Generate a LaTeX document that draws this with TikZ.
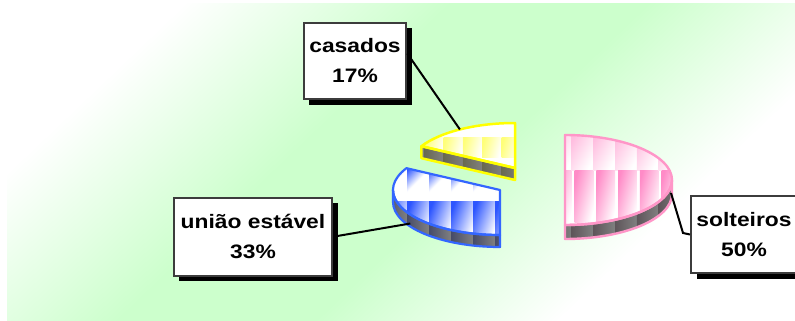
\documentclass[tikz,border=0pt]{standalone}
\usepackage{fontspec}
\newfontfamily\labfont{Liberation Sans}[FakeStretch=1.17]
\usetikzlibrary{calc,shadows}
\definecolor{bggreen}{RGB}{204,255,204}
\definecolor{yedge}{RGB}{255,255,0}
\definecolor{ytile}{RGB}{255,255,120}
\definecolor{bedge}{RGB}{51,102,255}
\definecolor{btile}{RGB}{45,85,255}
\definecolor{pedge}{RGB}{255,150,200}
\definecolor{ptile}{RGB}{255,110,185}
\definecolor{sidegray}{RGB}{128,128,128}
\definecolor{ysidedark}{RGB}{105,105,80}
\definecolor{bsidedark}{RGB}{70,75,105}
\definecolor{psidedark}{RGB}{95,85,90}
\definecolor{boxedge}{RGB}{60,60,60}
\pgfdeclarehorizontalshading{bgshade}{100bp}{color(0bp)=(white); color(33.5bp)=(white); color(45bp)=(bggreen); color(53.5bp)=(bggreen); color(64bp)=(white); color(100bp)=(white)}
\tikzset{
  labbox/.style={draw=boxedge, line width=2pt, fill=white, align=center, inner sep=0pt,
    font=\labfont\bfseries\fontsize{19.5}{30}\selectfont,
    drop shadow={shadow xshift=5.5pt, shadow yshift=-5.5pt, fill=black, opacity=1}},
  leader/.style={draw=black, line width=2pt},
  yline/.style={draw=yedge, line width=2.5pt, line join=round},
  bline/.style={draw=bedge, line width=2.2pt, line join=round},
  pline/.style={draw=pedge, line width=2.4pt, line join=round},
}
\begin{document}
\begin{tikzpicture}[x=1pt,y=-1pt]
\useasboundingbox (0,0) rectangle (795,321);
% ---------- background ----------
\begin{scope}
  \clip (7,4) rectangle (795,320);
  \begin{scope}[transform canvas={shift={(400,162)}, rotate=-46.4}]
    \shade[shading=bgshade] (-400,-400) rectangle (400,400);
  \end{scope}
\end{scope}

% ---------- yellow slice (casados) ----------
\coordinate (Y) at (515,168);
\coordinate (Yl) at ($(Y)+(-151:107 and 45)$);
\begin{scope}
  \clip (Y) -- (Yl) -- ++(0,12) -- ($(Y)+(0,12)$) -- cycle;
  \fill[sidegray] (400,130) rectangle (520,190);
  \foreach \i in {0,...,6}
    \shade[left color=ysidedark, right color=sidegray] ({405+19.3*\i},130) rectangle ++(19.3,60);
\end{scope}
\begin{scope}
  \clip (Y) -- ++(0,-45) arc[start angle=-90, end angle=-151, x radius=107, y radius=45] -- cycle;
  \fill[white] (400,115) rectangle (520,175);
  \foreach \i in {0,...,6}
    \shade[top color=ytile, bottom color=white, shading angle=75] ({405+19.3*\i},137) rectangle ++(19.3,20);
\end{scope}
\draw[yline] (Y) -- (Yl) -- ++(0,12) -- ($(Y)+(0,12)$) -- cycle;
\draw[yline] (Y) -- ++(0,-45) arc[start angle=-90, end angle=-151, x radius=107, y radius=45] -- cycle;

% ---------- blue slice (uniao estavel) ----------
\coordinate (B) at (500,190);
\coordinate (Bl) at ($(B)+(-151:107 and 45)$);
\coordinate (Bw) at ($(B)+(-180:107 and 45)$);
\begin{scope}
  \clip (Bw) arc[start angle=-180, end angle=-270, x radius=107, y radius=45] -- ++(0,12) arc[start angle=-270, end angle=-180, x radius=107, y radius=45] -- cycle;
  \fill[sidegray] (385,180) rectangle (510,255);
  \foreach \i in {0,...,5}
    \shade[left color=bsidedark, right color=sidegray] ({385+22*\i},180) rectangle ++(22,75);
\end{scope}
\begin{scope}
  \clip (B) -- (Bl) arc[start angle=-151, end angle=-270, x radius=107, y radius=45] -- cycle;
  \fill[white] (385,160) rectangle (510,240);
  \foreach \i in {0,...,5} {
    \shade[top color=btile, bottom color=white, middle color=white, shading angle=45] ({385+22*\i},160) rectangle ++(22,41);
    \shade[top color=btile, bottom color=white, shading angle=70] ({385+22*\i},201) rectangle ++(22,39);
  }
\end{scope}
\draw[bline] (Bw) arc[start angle=-180, end angle=-270, x radius=107, y radius=45] -- ++(0,12) arc[start angle=-270, end angle=-180, x radius=107, y radius=45] -- cycle;
\draw[bline] (B) -- (Bl) arc[start angle=-151, end angle=-270, x radius=107, y radius=45] -- cycle;

% ---------- pink slice (solteiros) ----------
\coordinate (P) at (565,180);
\coordinate (Pb) at ($(P)+(0,45)$);
\begin{scope}
  \clip (Pb) arc[start angle=90, end angle=0, x radius=107, y radius=45] -- ++(0,14) arc[start angle=0, end angle=90, x radius=107, y radius=45] -- cycle;
  \fill[sidegray] (550,170) rectangle (690,250);
  \foreach \i in {0,...,6}
    \shade[left color=psidedark, right color=sidegray] ({550+21.7*\i},170) rectangle ++(21.7,80);
\end{scope}
\begin{scope}
  \clip (Pb) arc[start angle=90, end angle=-90, x radius=107, y radius=45] -- cycle;
  \fill[white] (550,130) rectangle (690,235);
  \foreach \i in {0,...,6} {
    \shade[top color=ptile!45, bottom color=white, shading angle=60] ({550+21.7*\i},130) rectangle ++(21.7,40);
    \shade[top color=ptile!80, bottom color=white, shading angle=75] ({553+21.7*\i},170) rectangle ++(18.7,52);
  }
\end{scope}
\draw[pline] (Pb) arc[start angle=90, end angle=0, x radius=107, y radius=45] -- ++(0,14) arc[start angle=0, end angle=90, x radius=107, y radius=45] -- cycle;
\draw[pline] (Pb) arc[start angle=90, end angle=-90, x radius=107, y radius=45] -- cycle;

% ---------- label boxes ----------
\node[labbox, minimum width=102.6pt, minimum height=76.3pt] (cas) at (355,61) {casados\\17\%};
\node[labbox, minimum width=158.6pt, minimum height=78pt] (uni) at (253,236.7) {união estável\\33\%};
\node[labbox, minimum width=106pt, minimum height=77pt] (sol) at (744,234.5) {solteiros\\50\%};

% ---------- leaders ----------
\coordinate (yArc) at ($(Y)+(-121:107 and 45)$);
\coordinate (bSide) at ($(B)+(147:107 and 45)+(0,9)$);
\coordinate (pR) at ($(P)+(106,13)$);
\coordinate (pElbow) at (683,233);
\coordinate (casA) at ($(cas.east)+(0,-7.5)$);
\draw[leader] (casA) -- (yArc);
\draw[leader] (uni.east) -- (bSide);
\draw[leader] (pR) -- (pElbow) -- (sol.west);
\end{tikzpicture}
\end{document}
